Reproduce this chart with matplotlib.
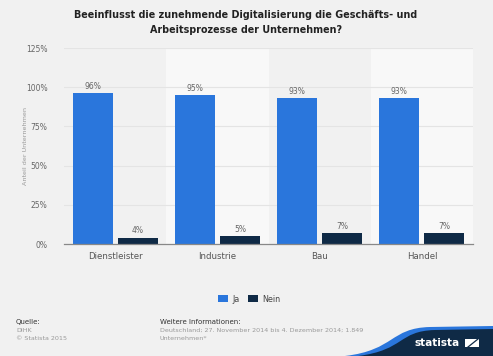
import matplotlib
matplotlib.use("Agg")
import matplotlib.pyplot as plt
import numpy as np
from matplotlib.path import Path
from matplotlib.patches import PathPatch, Rectangle, Polygon

# Data
categories = ["Dienstleister", "Industrie", "Bau", "Handel"]
ja_values = [96, 95, 93, 93]
nein_values = [4, 5, 7, 7]
series_names = ["Ja", "Nein"]
y_ticks = [0, 25, 50, 75, 100, 125]

blue = "#2a76dc"
navy = "#0f2a46"
bg = "#f1f1f1"
band_light = "#f8f8f8"
text_gray = "#666666"

plt.rcParams["font.family"] = ["DejaVu Sans"]

fig = plt.figure(figsize=(4.93, 3.56), dpi=100)
fig.patch.set_facecolor(bg)
ax = fig.add_axes([64 / 493, 112 / 356, 409 / 493, 196 / 356])
ax.set_facecolor("none")

x = np.arange(len(categories))
width = 0.39
offset = 0.22

# alternating bands
for i in x:
    if i % 2 == 1:
        ax.axvspan(i - 0.5, i + 0.5, color=band_light, zorder=0, lw=0)

for t in y_ticks[1:]:
    ax.axhline(t, color="#e4e4e4", lw=0.8, zorder=1)

b1 = ax.bar(x - offset, ja_values, width, color=blue, zorder=3, label=series_names[0])
b2 = ax.bar(x + offset, nein_values, width, color=navy, zorder=3, label=series_names[1])

for bars, vals in ((b1, ja_values), (b2, nein_values)):
    for rect, v in zip(bars, vals):
        ax.text(rect.get_x() + rect.get_width() / 2, v + 1.5, f"{v}%",
                ha="center", va="bottom", fontsize=5.5, color=text_gray, zorder=4)

ax.set_xlim(-0.5, len(categories) - 0.5)
ax.set_ylim(0, 125)
ax.set_yticks(y_ticks)
ax.set_yticklabels([f"{t}%" for t in y_ticks], fontsize=5.5, color=text_gray)
ax.set_xticks(x)
ax.set_xticklabels(categories, fontsize=6.2, color="#555555")
ax.tick_params(axis="both", length=0, pad=6)
ax.tick_params(axis="y", pad=12)
for s in ["top", "right", "left"]:
    ax.spines[s].set_visible(False)
ax.spines["bottom"].set_color("#888888")
ax.spines["bottom"].set_linewidth(0.9)
ax.spines["bottom"].set_zorder(5)

fig.text(26 / 493, 1 - 146 / 356, "Anteil der Unternehmen", rotation=90,
         ha="center", va="center", fontsize=4.6, color="#999999")

fig.text(246 / 493, 1 - 15 / 356, "Beeinflusst die zunehmende Digitalisierung die Geschäfts- und",
         ha="center", va="center", fontsize=6.9, fontweight="bold", color="#222222")
fig.text(246 / 493, 1 - 30 / 356, "Arbeitsprozesse der Unternehmen?",
         ha="center", va="center", fontsize=6.9, fontweight="bold", color="#222222")

# legend
leg = fig.legend(handles=[b1, b2], labels=series_names, loc="center",
                 bbox_to_anchor=(249 / 493, 1 - 299 / 356), ncol=2, frameon=False,
                 fontsize=5.8, handlelength=1.3, handleheight=1.0, columnspacing=1.0,
                 handletextpad=0.5)
for t in leg.get_texts():
    t.set_color("#444444")

# footer
fig.text(16 / 493, 1 - 322 / 356, "Quelle:", fontsize=5, color="#333333", va="center")
fig.text(16 / 493, 1 - 330 / 356, "DIHK", fontsize=4.6, color="#999999", va="center")
fig.text(16 / 493, 1 - 338 / 356, "© Statista 2015", fontsize=4.6, color="#999999", va="center")
fig.text(160 / 493, 1 - 322 / 356, "Weitere Informationen:", fontsize=5, color="#333333", va="center")
fig.text(160 / 493, 1 - 330 / 356, "Deutschland; 27. November 2014 bis 4. Dezember 2014; 1.849",
         fontsize=4.6, color="#999999", va="center")
fig.text(160 / 493, 1 - 338 / 356, "Unternehmen*", fontsize=4.6, color="#999999", va="center")

# statista logo wave
W, H = 493, 356
def fpt(px, py):
    return (px / W, 1 - py / H)

codes = [Path.MOVETO, Path.CURVE4, Path.CURVE4, Path.CURVE4,
         Path.LINETO, Path.LINETO, Path.CLOSEPOLY]
verts = [fpt(345, 356), fpt(395, 350), fpt(390, 328), fpt(430, 327),
         fpt(493, 326), fpt(493, 356), fpt(345, 356)]
fig.add_artist(PathPatch(Path(verts, codes), facecolor="#2a76dc", lw=0,
                         transform=fig.transFigure))
verts2 = [fpt(358, 356), fpt(405, 350), fpt(398, 331), fpt(435, 330),
          fpt(493, 329), fpt(493, 356), fpt(358, 356)]
fig.add_artist(PathPatch(Path(verts2, codes), facecolor="#0f2a46", lw=0,
                         transform=fig.transFigure))
fig.text(437 / 493, 1 - 343 / 356, "statista", fontsize=7.6, fontweight="bold",
         color="white", ha="center", va="center")
fig.add_artist(Rectangle(fpt(465, 347), 14 / W, 8 / H, facecolor="white", lw=0,
                         transform=fig.transFigure))
fig.add_artist(Polygon([fpt(467, 347), fpt(477, 339), fpt(479, 339), fpt(469, 347)],
                       closed=True, facecolor="#0f2a46", lw=0, transform=fig.transFigure))

fig.savefig("out.png", dpi=100, facecolor=fig.get_facecolor())
